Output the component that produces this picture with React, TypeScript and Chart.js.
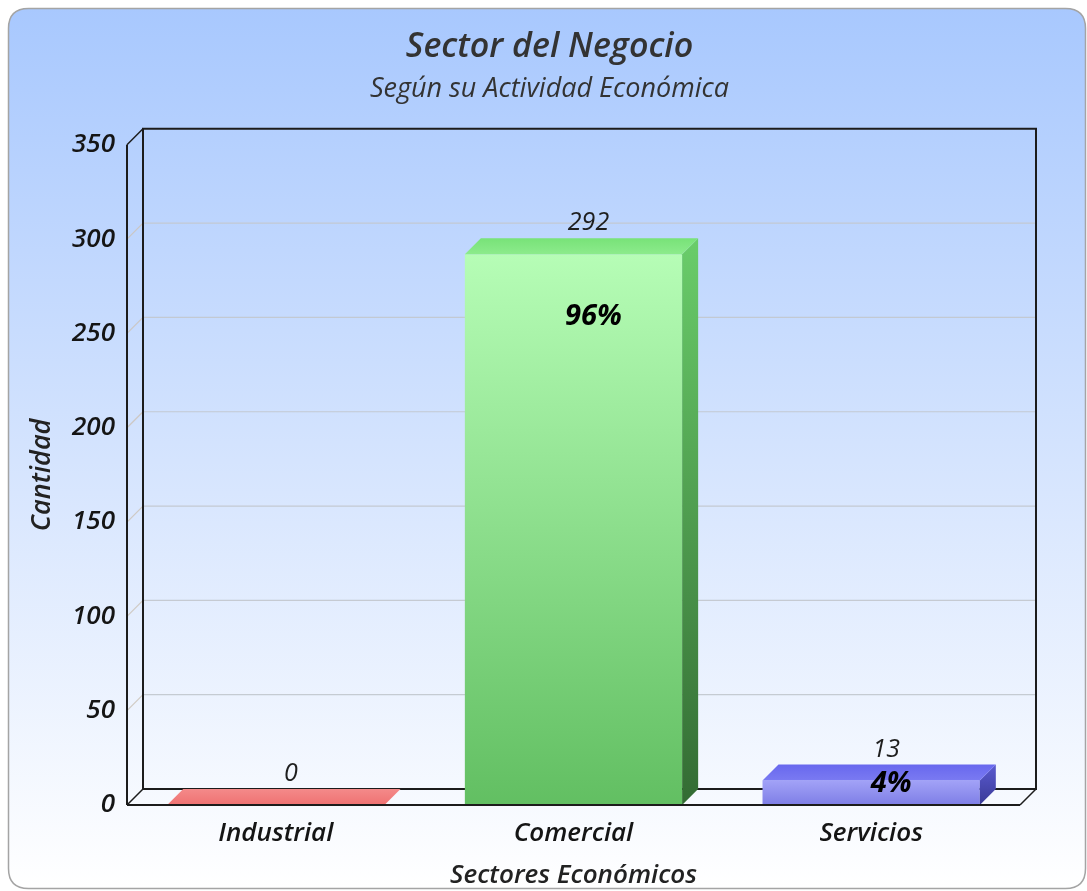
import React, { useEffect, useRef } from 'react';
import { Chart, registerables } from 'chart.js';

Chart.register(...registerables);

const categories = ['Industrial', 'Comercial', 'Servicios'];
const values = [0, 292, 13];
const percentLabels = ['', '96%', '4%'];
const yTicks = [0, 50, 100, 150, 200, 250, 300, 350];

const titleText = 'Sector del Negocio';
const subtitleText = 'Según su Actividad Económica';
const xTitle = 'Sectores Económicos';
const yTitle = 'Cantidad';

const frontTop = ['#f47e7e', '#b6fdb6', '#a2a2f7'];
const frontBottom = ['#ec6c6c', '#62bf62', '#7e7ee6'];
const topBack = ['#f48a8a', '#78e278', '#6868ee'];
const topFront = ['#ef7272', '#8ceb8c', '#7a7af2'];
const sideTop = ['#d25c5c', '#6acd6a', '#5a5ad0'];
const sideBottom = ['#a84444', '#336b33', '#3a3a96'];

const FONT = '"Open Sans", "DejaVu Sans", sans-serif';
const D = 16;

function roundRectPath(ctx: CanvasRenderingContext2D, x: number, y: number, w: number, h: number, r: number) {
  ctx.beginPath();
  ctx.moveTo(x + r, y);
  ctx.lineTo(x + w - r, y);
  ctx.quadraticCurveTo(x + w, y, x + w, y + r);
  ctx.lineTo(x + w, y + h - r);
  ctx.quadraticCurveTo(x + w, y + h, x + w - r, y + h);
  ctx.lineTo(x + r, y + h);
  ctx.quadraticCurveTo(x, y + h, x, y + h - r);
  ctx.lineTo(x, y + r);
  ctx.quadraticCurveTo(x, y, x + r, y);
  ctx.closePath();
}

const threeD = {
  id: 'threeD',
  beforeDraw(chart: any) {
    const { ctx, chartArea: a } = chart;
    ctx.save();
    roundRectPath(ctx, 8.5, 8.5, 1077, 880, 20);
    const g = ctx.createLinearGradient(0, 8, 0, 889);
    g.addColorStop(0, '#a8c8fe');
    g.addColorStop(0.55, '#d8e6fe');
    g.addColorStop(1, '#ffffff');
    ctx.fillStyle = g;
    ctx.fill();
    ctx.strokeStyle = '#a4a4a4';
    ctx.lineWidth = 1.5;
    ctx.stroke();

    const ys = chart.scales.y;
    ctx.lineWidth = 1.2;
    for (const t of yTicks) {
      if (t === 0 || t === 350) continue;
      const py = ys.getPixelForValue(t);
      ctx.strokeStyle = 'rgba(205,195,185,0.85)';
      ctx.beginPath();
      ctx.moveTo(a.left, py);
      ctx.lineTo(a.left + D, py - D);
      ctx.stroke();
      ctx.strokeStyle = 'rgba(195,200,208,0.95)';
      ctx.beginPath();
      ctx.moveTo(a.left + D, py - D);
      ctx.lineTo(a.right + D, py - D);
      ctx.stroke();
    }

    ctx.strokeStyle = '#1c1c1c';
    ctx.lineWidth = 2;
    ctx.beginPath();
    ctx.moveTo(a.left + D, a.bottom - D);
    ctx.lineTo(a.left + D, a.top - D);
    ctx.lineTo(a.right + D, a.top - D);
    ctx.lineTo(a.right + D, a.bottom - D);
    ctx.lineTo(a.left + D, a.bottom - D);
    ctx.stroke();

    ctx.lineWidth = 1.5;
    ctx.beginPath();
    ctx.moveTo(a.left, a.top);
    ctx.lineTo(a.left + D, a.top - D);
    ctx.moveTo(a.left, a.bottom);
    ctx.lineTo(a.left + D, a.bottom - D);
    ctx.moveTo(a.right, a.bottom);
    ctx.lineTo(a.right + D, a.bottom - D);
    ctx.stroke();

    ctx.lineWidth = 2;
    ctx.beginPath();
    ctx.moveTo(a.left, a.top);
    ctx.lineTo(a.left, a.bottom);
    ctx.stroke();
    ctx.restore();
  },
  afterDatasetsDraw(chart: any) {
    const { ctx, chartArea: a } = chart;
    const meta = chart.getDatasetMeta(0);
    ctx.save();
    meta.data.forEach((bar: any, i: number) => {
      const { x, y, base, width } = bar.getProps(['x', 'y', 'base', 'width'], true);
      const l = x - width / 2;
      const r = x + width / 2;
      if (base - y > 0.5) {
        const sg = ctx.createLinearGradient(0, y - D, 0, base);
        sg.addColorStop(0, sideTop[i]);
        sg.addColorStop(1, sideBottom[i]);
        ctx.fillStyle = sg;
        ctx.beginPath();
        ctx.moveTo(r, y);
        ctx.lineTo(r + D, y - D);
        ctx.lineTo(r + D, base - D);
        ctx.lineTo(r, base);
        ctx.closePath();
        ctx.fill();
      }
      const tg = ctx.createLinearGradient(0, y - D, 0, y);
      tg.addColorStop(0, topBack[i]);
      tg.addColorStop(1, topFront[i]);
      ctx.fillStyle = tg;
      ctx.beginPath();
      ctx.moveTo(l, y);
      ctx.lineTo(l + D, y - D);
      ctx.lineTo(r + D, y - D);
      ctx.lineTo(r, y);
      ctx.closePath();
      ctx.fill();
    });

    ctx.strokeStyle = '#1c1c1c';
    ctx.lineWidth = 2;
    ctx.beginPath();
    ctx.moveTo(a.left, a.bottom);
    ctx.lineTo(a.right, a.bottom);
    ctx.stroke();

    ctx.textAlign = 'center';
    ctx.textBaseline = 'middle';
    meta.data.forEach((bar: any, i: number) => {
      const { x, y, base } = bar.getProps(['x', 'y', 'base'], true);
      ctx.fillStyle = '#1e1e1e';
      ctx.font = `italic 400 25px ${FONT}`;
      ctx.fillText(String(values[i]), x + 15, y - 31);
      if (percentLabels[i]) {
        ctx.fillStyle = '#000000';
        ctx.font = `italic 700 29px ${FONT}`;
        const py = Math.min(y + 63, (y + base) / 2 - 9);
        ctx.fillText(percentLabels[i], x + 20, py);
      }
    });
    ctx.restore();
  },
};

export default function App() {
  const ref = useRef<HTMLCanvasElement | null>(null);
  useEffect(() => {
    if (!ref.current) return;
    const chart = new Chart(ref.current, {
      type: 'bar',
      data: {
        labels: categories,
        datasets: [
          {
            data: values,
            categoryPercentage: 1,
            barPercentage: 0.73,
            borderWidth: 0,
            backgroundColor: (c: any) => {
              const ch = c.chart;
              const i = c.dataIndex;
              if (!ch.chartArea || i === undefined) return frontBottom[i ?? 0];
              const ys = ch.scales.y;
              const top = ys.getPixelForValue(values[i]);
              const bottom = ys.getPixelForValue(0);
              const gr = ch.ctx.createLinearGradient(0, top, 0, Math.max(bottom, top + 1));
              gr.addColorStop(0, frontTop[i]);
              gr.addColorStop(1, frontBottom[i]);
              return gr;
            },
          },
        ],
      },
      options: {
        responsive: false,
        animation: false,
        devicePixelRatio: 1,
        layout: { padding: { left: 12, right: 0, top: 0, bottom: 0 } },
        plugins: {
          legend: { display: false },
          tooltip: { enabled: false },
          title: {
            display: true,
            text: titleText,
            color: '#333333',
            font: { family: FONT, size: 34, style: 'italic', weight: '600', lineHeight: 1.2 },
            padding: { top: 26.6, bottom: 6.2 },
          },
          subtitle: {
            display: true,
            text: subtitleText,
            color: '#333333',
            font: { family: FONT, size: 27, style: 'italic', weight: '400', lineHeight: 1.2 },
            padding: { top: 0, bottom: 38.8 },
          },
        },
        scales: {
          x: {
            type: 'category',
            grid: { display: false },
            border: { display: false },
            ticks: {
              color: '#151515',
              padding: 5.4,
              font: { family: FONT, size: 26, style: 'italic', weight: '600', lineHeight: 1.2 },
            },
            title: {
              display: true,
              text: xTitle,
              color: '#222222',
              font: { family: FONT, size: 26, style: 'italic', weight: '600', lineHeight: 1.2 },
              padding: { top: 0, bottom: 0 },
            },
            afterFit: (s: any) => {
              s.height = 86;
            },
          },
          y: {
            min: 0,
            max: 350,
            grid: { display: false },
            border: { display: false },
            afterBuildTicks: (s: any) => {
              s.ticks = yTicks.map((v) => ({ value: v }));
            },
            ticks: {
              color: '#151515',
              padding: 4,
              font: { family: FONT, size: 26, style: 'italic', weight: '600', lineHeight: 1.2 },
            },
            title: {
              display: true,
              text: yTitle,
              color: '#222222',
              font: { family: FONT, size: 27, style: 'italic', weight: '600', lineHeight: 1.2 },
              padding: { top: 13.8, bottom: 0 },
            },
            afterFit: (s: any) => {
              s.width = 115;
            },
          },
          yRight: {
            position: 'right',
            display: true,
            min: 0,
            max: 350,
            grid: { display: false },
            border: { display: false },
            ticks: { display: false },
            afterFit: (s: any) => {
              s.width = 67;
            },
          },
        },
      },
      plugins: [threeD],
    } as any);
    return () => chart.destroy();
  }, []);
  return (
    <div style={{ position: 'fixed', left: 0, top: 0, width: 1087, height: 891, background: '#ffffff' }}>
      <canvas ref={ref} width={1087} height={891} style={{ display: 'block' }} />
    </div>
  );
}
